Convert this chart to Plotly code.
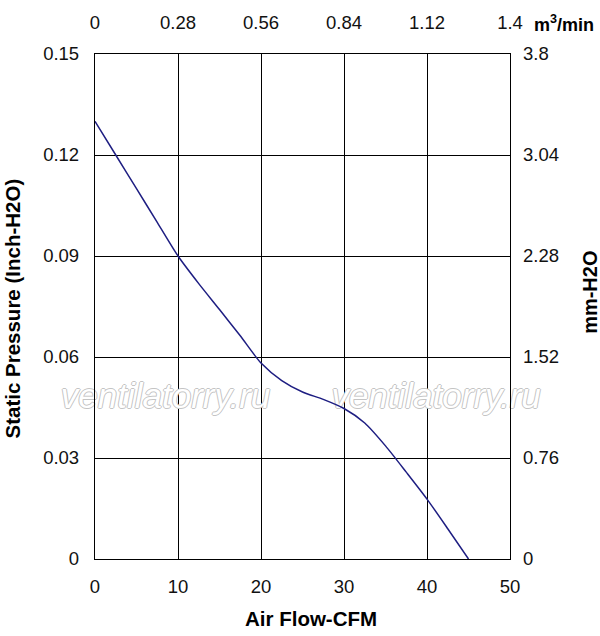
import plotly.graph_objects as go

# fan curve: static pressure vs air flow
cfm = [0, 2.5, 5, 7.5, 10, 12.5, 15, 17.5, 20, 22.5, 25, 27.5, 30, 32.5, 35, 37.5, 40, 42.5, 45]
inch_h2o = [0.130, 0.120, 0.110, 0.100, 0.090, 0.0818, 0.0741, 0.0663, 0.0582, 0.0530, 0.0496,
            0.0474, 0.0447, 0.0404, 0.0336, 0.0258, 0.0178, 0.0090, 0.0]

x_ticks = [0, 10, 20, 30, 40, 50]
y_ticks = [0, 0.03, 0.06, 0.09, 0.12, 0.15]
y_labels = ["0", "0.03", "0.06", "0.09", "0.12", "0.15"]
m3_ticks = [0, 0.28, 0.56, 0.84, 1.12, 1.4]
m3_labels = ["0", "0.28", "0.56", "0.84", "1.12", "1.4"]
mm_ticks = [0, 0.76, 1.52, 2.28, 3.04, 3.8]
mm_labels = ["0", "0.76", "1.52", "2.28", "3.04", "3.8"]

FONT = "Liberation Sans, Arial, sans-serif"
TICKFONT = dict(family=FONT, size=18.5, color="#111")

fig = go.Figure()

# watermarks first so the curve is drawn over them
outline = "1px 0 #c4c4c4, -1px 0 #c4c4c4, 0 1px #c4c4c4, 0 -1px #c4c4c4"
fig.add_trace(go.Scatter(x=[8.5, 41.1], y=[0.0476, 0.0476], mode="text",
                         text=["<i>ventilatorry.ru</i>"] * 2, textposition="middle center",
                         textfont=dict(family=FONT, size=35, color="white", shadow=outline),
                         cliponaxis=False, hoverinfo="skip", showlegend=False))

fig.add_trace(go.Scatter(x=cfm, y=inch_h2o, mode="lines",
                         line=dict(color="#1e1e82", width=1.5, shape="spline", smoothing=0.7),
                         hoverinfo="skip", showlegend=False))
# invisible traces so the secondary axes get drawn
fig.add_trace(go.Scatter(x=[0, 1.4], y=[0, 0], xaxis="x2", yaxis="y", mode="lines",
                         line=dict(width=0), opacity=0, showlegend=False, hoverinfo="skip"))
fig.add_trace(go.Scatter(x=[0, 50], y=[0, 3.8], xaxis="x", yaxis="y2", mode="lines",
                         line=dict(width=0), opacity=0, showlegend=False, hoverinfo="skip"))

fig.update_layout(
    width=600, height=636,
    margin=dict(l=95, r=90, t=49, b=77),
    paper_bgcolor="white", plot_bgcolor="white",
    font=dict(family=FONT, color="#111"),
    xaxis=dict(range=[0, 50], tickvals=x_ticks, ticktext=[str(v) for v in x_ticks],
               showgrid=True, gridcolor="#000", gridwidth=1.2,
               showline=True, linecolor="#000", linewidth=1.3, mirror=True,
               zeroline=False, ticks="", ticklabelstandoff=11, tickfont=TICKFONT),
    yaxis=dict(range=[0, 0.15], tickvals=y_ticks, ticktext=y_labels,
               showgrid=True, gridcolor="#000", gridwidth=1.2,
               showline=True, linecolor="#000", linewidth=1.3, mirror=True,
               zeroline=False, ticks="", ticklabelstandoff=11, tickfont=TICKFONT),
    xaxis2=dict(range=[0, 1.4], overlaying="x", side="top", tickvals=m3_ticks, ticktext=m3_labels,
                showgrid=False, zeroline=False, ticks="", ticklabelstandoff=20, tickfont=TICKFONT),
    yaxis2=dict(range=[0, 3.8], overlaying="y", side="right", tickvals=mm_ticks, ticktext=mm_labels,
                showgrid=False, zeroline=False, ticks="", ticklabelstandoff=12, tickfont=TICKFONT),
)

# axis titles
fig.add_annotation(text="<b>Air Flow-CFM</b>", xref="paper", yref="paper", x=0.52, y=0,
                   xanchor="center", yanchor="middle", yshift=-59, showarrow=False,
                   font=dict(family=FONT, size=20.5, color="#000"))
fig.add_annotation(text="<b>Static Pressure (Inch-H2O)</b>", xref="paper", yref="paper", x=0, y=0.496,
                   xanchor="center", yanchor="middle", xshift=-82, textangle=-90, showarrow=False,
                   font=dict(family=FONT, size=20.5, color="#000"))
fig.add_annotation(text="<b>mm-H2O</b>", xref="paper", yref="paper", x=1.0, y=0.527,
                   xanchor="center", yanchor="middle", xshift=80, textangle=-90, showarrow=False,
                   font=dict(family=FONT, size=20, color="#000"))
fig.add_annotation(text="<b>m<sup>3</sup>/min</b>", xref="paper", yref="paper", x=1.053, y=1.0,
                   xanchor="left", yanchor="middle", yshift=31, showarrow=False,
                   font=dict(family=FONT, size=18, color="#000"))

fig.write_html("out.html", config={"displayModeBar": False},
               post_script="document.body.style.margin='0';")
